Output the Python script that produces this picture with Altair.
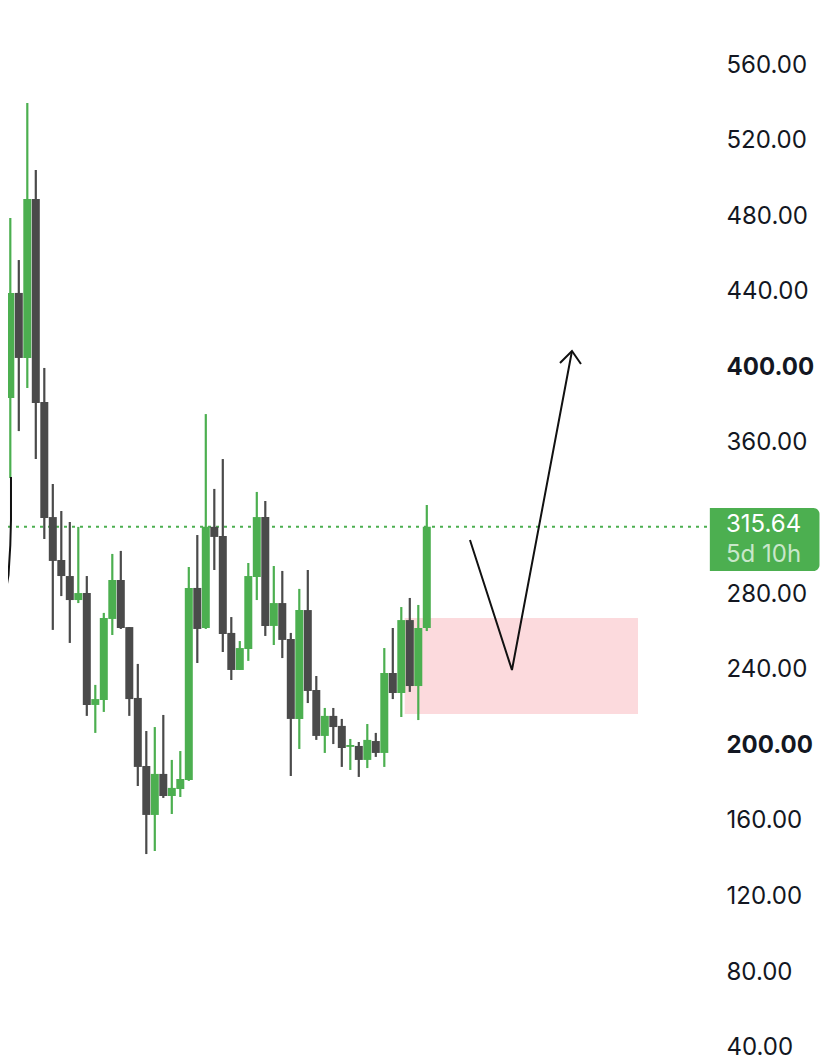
import pandas as pd
import altair as alt

# candles, oldest first
opens = [315.64, 383.8, 439.4, 405.0, 489.1, 381.7, 320.8, 298.1, 289.6, 276.9,
         280.6, 221.4, 224.0, 266.9, 287.5, 262.6, 225.1, 189.1, 163.2, 184.9,
         173.2, 176.9, 181.7, 283.3, 262.1, 315.64, 310.8, 259.5, 239.9, 251.0,
         289.1, 320.8, 263.2, 275.3, 256.3, 214.0, 271.6, 229.3, 205.0, 215.6,
         210.3, 199.2, 199.7, 192.3, 202.3, 196.0, 238.3, 227.7, 266.3, 231.4,
         262.1]
closes = [383.8, 439.4, 405.0, 489.1, 381.2, 320.3, 297.6, 289.6, 276.9, 280.6,
          221.4, 224.5, 267.4, 287.5, 262.1, 224.5, 188.6, 163.2, 184.9, 173.2,
          177.5, 182.2, 283.3, 261.6, 315.64, 310.3, 258.9, 239.9, 251.5, 289.6,
          320.8, 263.2, 275.3, 255.8, 214.0, 271.6, 228.8, 205.0, 215.6, 209.7,
          198.6, 200.2, 192.3, 202.9, 196.0, 238.3, 227.7, 266.3, 231.4, 262.1,
          315.64]
highs = [398.6, 479.0, 456.8, 539.9, 504.4, 399.7, 338.3, 324.0, 318.2, 315.6,
         289.6, 232.0, 270.1, 301.3, 302.9, 262.6, 243.1, 207.6, 209.7, 216.1,
         192.3, 197.0, 294.4, 311.3, 375.3, 335.7, 351.5, 267.9, 255.2, 296.5,
         334.1, 329.3, 294.9, 292.3, 259.5, 282.8, 292.8, 236.7, 219.8, 219.8,
         214.0, 203.4, 201.8, 211.3, 206.6, 251.5, 262.1, 273.2, 278.0, 274.3,
         327.2]
lows = [131.4, 341.5, 366.3, 389.1, 351.5, 309.2, 261.1, 279.0, 254.2, 275.3,
        215.6, 206.6, 217.7, 258.4, 261.6, 215.6, 178.5, 142.5, 144.1, 172.2,
        163.7, 172.7, 181.2, 243.6, 261.6, 292.8, 249.4, 234.6, 239.9, 244.7,
        276.9, 257.9, 253.1, 246.2, 183.8, 198.1, 222.4, 202.9, 196.0, 200.7,
        188.6, 187.0, 183.3, 188.0, 193.9, 188.6, 224.5, 215.0, 228.3, 213.4,
        260.5]

tick_values = [40, 80, 120, 160, 200, 240, 280, 360, 400, 440, 480, 520, 560]
bold_ticks = [200, 400]
last_price = 315.64

# drawn on top of the chart: (bar index, price)
zone_x = [47.4, 74.85]
zone_y = [216.6, 267.4]
arrow_x = [55.08, 60.02, 67.08]
arrow_y = [308.7, 239.9, 408.7]
head_x = [65.67, 67.08, 68.14]
head_y = [402.3, 408.7, 401.8]
curve_x = [1.08, 1.08, 1.0, 0.79, 0.49, 0.02]
curve_y = [342.0, 319.3, 306.0, 290.2, 282.2, 276.9]
tag_x = [83.3, 96.2]
tag_y = [292.3, 325.6]
tag_text_x = 85.2
tag_labels = ["315.64", "5d 10h"]
tag_label_y = [316.4, 300.9]

GREEN = "#4CAF50"
DARK = "#4A4A4A"
FONT = "Inter"

df = pd.DataFrame({"i": range(len(opens)), "open": opens, "close": closes,
                   "high": highs, "low": lows})

bold_test = " || ".join(f"datum.value == {v}" for v in bold_ticks)
price_axis = alt.Axis(orient="right", offset=-94, values=tick_values, format=".2f", title=None,
                      domain=False, ticks=False, grid=False, labelPadding=0,
                      labelFont=FONT, labelFontSize=24, labelColor="#131722", labelAlign="left",
                      labelFlush=False, labelOverlap=False,
                      labelFontWeight={"condition": {"test": bold_test, "value": "bold"}, "value": "normal"})

x_scale = alt.Scale(domain=[0.729, 96.26], nice=False, zero=False, padding=0)
y_scale = alt.Scale(domain=[33.0, 590.16], nice=False, zero=False)
X = lambda f: alt.X(f, type="quantitative", scale=x_scale, axis=None)
Y = lambda f: alt.Y(f, type="quantitative", scale=y_scale, axis=price_axis)
candle_color = alt.condition("datum.close >= datum.open", alt.value(GREEN), alt.value(DARK))

zone = alt.Chart(pd.DataFrame({"x": [zone_x[0]], "x2": [zone_x[1]], "y": [zone_y[0]], "y2": [zone_y[1]]})).mark_rect(
    color="#FCDADD").encode(x=X("x"), x2="x2", y=Y("y"), y2="y2")

last_line = alt.Chart(pd.DataFrame({"x": [0.729], "x2": [tag_x[0]], "y": [last_price]})).mark_rule(
    color=GREEN, strokeWidth=2, strokeDash=[3, 5]).encode(x=X("x"), x2="x2", y=Y("y"))

wicks = alt.Chart(df).mark_rule(strokeWidth=2.2, clip=True).encode(
    x=X("i"), y=Y("low"), y2="high:Q", color=candle_color)
bodies = alt.Chart(df).mark_bar(size=8, clip=True).encode(
    x=X("i"), y=Y("open"), y2="close:Q", color=candle_color)


def path(xs, ys, width=2):
    d = pd.DataFrame({"x": xs, "y": ys, "o": range(len(xs))})
    return alt.Chart(d).mark_line(color="#111111", strokeWidth=width, clip=True).encode(
        x=X("x"), y=Y("y"), order="o:Q")


tag = alt.Chart(pd.DataFrame({"x": [tag_x[0]], "x2": [tag_x[1]], "y": [tag_y[0]], "y2": [tag_y[1]]})).mark_rect(
    color=GREEN, cornerRadiusTopRight=6, cornerRadiusBottomRight=6).encode(x=X("x"), x2="x2", y=Y("y"), y2="y2")

tag_df = pd.DataFrame({"x": [tag_text_x] * 2, "y": tag_label_y, "t": tag_labels, "c": ["#FFFFFF", "#C9E7CA"]})
tag_text = alt.Chart(tag_df).mark_text(font=FONT, fontSize=24, align="left", baseline="middle").encode(
    x=X("x"), y=Y("y"), text="t:N", color=alt.Color("c:N", scale=None))

chart = alt.layer(
    zone, last_line, wicks, bodies,
    path(curve_x, curve_y), path(arrow_x, arrow_y), path(head_x, head_y),
    tag, tag_text,
).properties(
    width=812, height=1053, padding=0,
    autosize=alt.AutoSizeParams(type="none"),
    background="white",
).configure_view(stroke=None)

chart.save("out.html", embed_options={"renderer": "svg", "actions": False})
